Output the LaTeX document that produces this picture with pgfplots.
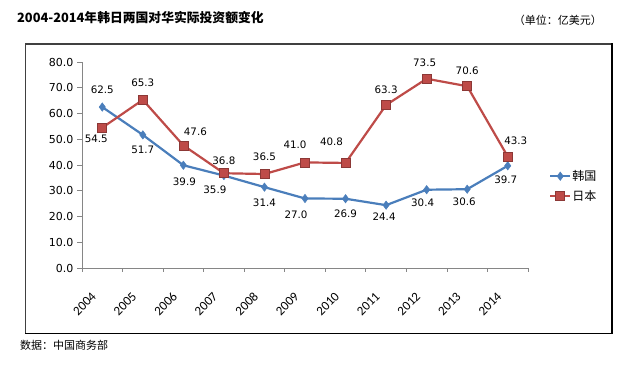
\documentclass[border=0pt]{standalone}
\usepackage{fontspec}
\usepackage{pgfplots}
\usepackage{pgfplotstable}
\pgfplotsset{compat=1.18}
\setmainfont{DejaVu Sans}
\newfontfamily\cjk{Noto Sans CJK SC}
\newfontfamily\carlito{Carlito}
\definecolor{kor}{HTML}{4A7EBB}
\definecolor{jpn}{HTML}{BE4B48}
\definecolor{jpnd}{HTML}{8C3836}
\definecolor{axg}{HTML}{868686}
\definecolor{frm}{HTML}{404040}

\pgfplotstableread{
x y dx dy
0 62.5 0 17
1 51.7 0 -15
2 39.9 1 -16
3 35.9 -9 -14
4 31.4 0 -16
5 27.0 -9 -16
6 26.9 0 -15
7 24.4 -2 -12
8 30.4 -4 -13
9 30.6 -3 -13
10 39.7 -2 -14
}\korea
\pgfplotstableread{
x y dx dy
0 54.5 -6 -11
1 65.3 0 17
2 47.6 12 14
3 36.8 0 12
4 36.5 0 17
5 41.0 -10 18
6 40.8 -14 21
7 63.3 0 15
8 73.5 -2 16
9 70.6 0 15
10 43.3 8 16
}\japan

\begin{document}
\begin{tikzpicture}
\path[use as bounding box] (0,0) rectangle (640pt,372pt);
\fill[frm] (24.5pt,37.5pt) rectangle (26pt,328.5pt);
\fill[frm] (24.5pt,327pt) rectangle (612.5pt,328.5pt);
\fill[black] (611pt,37.5pt) rectangle (612.5pt,328.5pt);
\fill[black] (24.5pt,37.5pt) rectangle (612.5pt,39pt);
\node[anchor=west, inner sep=0pt, font=\cjk\bfseries\fontsize{12.8}{15}\selectfont] at (17pt,354pt) {2004-2014年韩日两国对华实际投资额变化};
\node[anchor=east, inner sep=0pt, font=\cjk\fontsize{11}{13}\selectfont] at (602pt,352pt) {（单位：亿美元）};
\node[anchor=west, inner sep=0pt, font=\cjk\fontsize{11}{13}\selectfont] at (20pt,27pt) {数据：中国商务部};
\begin{axis}[
  at={(82pt,104pt)}, anchor=south west,
  scale only axis, width=446pt, height=206pt,
  xmin=-0.5, xmax=10.5, ymin=0, ymax=80,
  axis x line*=bottom, axis y line*=left,
  axis line style={axg, line width=0.8pt},
  /pgf/number format/assume math mode=true,
  clip=false,
  xtick={0,...,10},
  xticklabels={2004,2005,2006,2007,2008,2009,2010,2011,2012,2013,2014},
  minor xtick={-0.5,0.5,...,10.5},
  major x tick style={draw=none},
  minor x tick style={axg, line width=0.8pt},
  minor tick length=4pt,
  ytick={0,10,...,80},
  major tick length=5pt,
  y tick style={axg, line width=0.8pt},
  tick align=outside,
  yticklabel style={font=\fontsize{11}{13}\selectfont, /pgf/number format/fixed, /pgf/number format/zerofill, /pgf/number format/precision=1},
  xticklabel style={font=\carlito\fontsize{13}{15}\selectfont, xshift=-6pt, yshift=-19pt, rotate=45, anchor=east},
  legend style={at={(1.047,0.398)}, anchor=west, draw=none, fill=none, inner sep=0pt,
     font=\cjk\fontsize{12}{14}\selectfont, row sep=6pt, nodes={inner sep=1pt}},
  legend cell align=left,
  legend image code/.code={\draw[#1, mark repeat=2, mark phase=2] plot coordinates {(0pt,0pt)(10pt,0pt)(20pt,0pt)};},
  nodes near coords,
  nodes near coords style={font=\fontsize{10.3}{12}\selectfont, text=black, /pgf/number format/fixed, /pgf/number format/zerofill, /pgf/number format/precision=1},
  visualization depends on={\thisrow{dx} \as \ldx},
  visualization depends on={\thisrow{dy} \as \ldy},
  every node near coord/.append style={anchor=center, xshift=\ldx pt, yshift=\ldy pt},
]
\addplot[kor, line width=2.2pt, mark=diamond*, mark size=4.2pt, mark options={fill=kor, draw=kor, line width=0.5pt}] table[x=x,y=y] {\korea};
\addlegendentry{韩国}
\addplot[jpn, line width=2.2pt, mark=square*, mark size=4.5pt, mark options={fill=jpn, draw=jpnd, line width=0.6pt}] table[x=x,y=y] {\japan};
\addlegendentry{日本}
\end{axis}
\end{tikzpicture}
\end{document}
